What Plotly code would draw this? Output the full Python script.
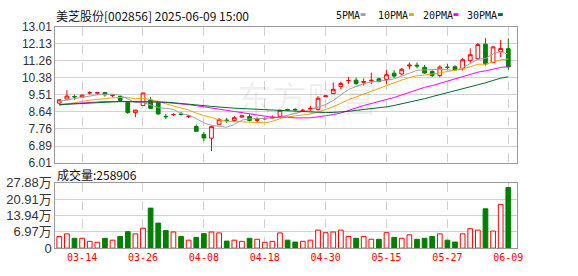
import plotly.graph_objects as go
import pandas as pd

W, H = 578, 276

# ---------------- data ----------------
dates = ["03-11", "03-12", "03-13", "03-14", "03-17", "03-18", "03-19", "03-20", "03-21", "03-24",
         "03-25", "03-26", "03-27", "03-28", "03-31", "04-01", "04-02", "04-03", "04-07", "04-08",
         "04-09", "04-10", "04-11", "04-14", "04-15", "04-16", "04-17", "04-18", "04-21", "04-22",
         "04-23", "04-24", "04-25", "04-28", "04-29", "04-30", "05-06", "05-07", "05-08", "05-09",
         "05-12", "05-13", "05-14", "05-15", "05-16", "05-19", "05-20", "05-21", "05-22", "05-23",
         "05-26", "05-27", "05-28", "05-29", "05-30", "06-03", "06-04", "06-05", "06-06", "06-09"]

opens = [9.09, 9.30, 9.43, 9.40, 9.62, 9.60, 9.63, 9.47, 9.43, 9.14,
         8.60, 8.97, 9.25, 9.12, 8.41, 8.50, 8.53, 8.40, 7.89, 7.48,
         7.29, 8.00, 8.22, 8.19, 8.37, 8.40, 8.20, 8.28, 8.33, 8.40,
         8.76, 8.77, 8.70, 8.78, 8.77, 9.42, 9.58, 9.94, 10.25, 10.27,
         10.16, 10.23, 10.34, 10.31, 10.63, 10.59, 11.00, 11.04, 10.93, 10.72,
         10.51, 10.93, 10.96, 10.85, 11.29, 11.37, 12.12, 11.17, 11.74, 11.89]
highs = [9.28, 9.75, 9.52, 9.53, 9.70, 9.66, 9.67, 9.53, 9.46, 9.16,
         8.74, 9.63, 9.40, 9.22, 8.54, 8.57, 8.64, 8.48, 7.99, 7.61,
         7.92, 8.33, 8.33, 8.43, 8.47, 8.52, 8.36, 8.36, 8.45, 8.75,
         8.80, 8.83, 8.80, 8.95, 9.45, 9.49, 10.15, 10.20, 10.44, 10.40,
         10.36, 10.66, 10.40, 10.80, 10.79, 10.90, 11.18, 11.18, 11.05, 10.78,
         11.04, 11.10, 11.04, 11.40, 11.90, 12.18, 12.43, 12.00, 12.34, 12.42]
lows = [9.05, 9.28, 9.27, 9.38, 9.53, 9.53, 9.42, 9.39, 9.20, 8.53,
        8.36, 8.95, 8.80, 8.50, 8.27, 8.43, 8.44, 8.32, 7.63, 7.15,
        6.63, 7.98, 8.06, 8.18, 8.35, 8.15, 8.10, 8.24, 8.30, 8.38,
        8.70, 8.68, 8.66, 8.66, 8.70, 9.40, 9.57, 9.80, 10.08, 10.03,
        10.00, 10.06, 10.15, 10.07, 10.39, 10.52, 10.82, 10.88, 10.60, 10.43,
        10.42, 10.82, 10.76, 10.77, 11.16, 11.33, 11.02, 11.14, 11.45, 10.80]
closes = [9.26, 9.45, 9.41, 9.50, 9.62, 9.63, 9.52, 9.49, 9.23, 8.61,
          8.73, 9.61, 8.82, 8.53, 8.39, 8.50, 8.51, 8.42, 7.64, 7.30,
          7.88, 8.24, 8.19, 8.34, 8.44, 8.20, 8.28, 8.30, 8.36, 8.72,
          8.74, 8.75, 8.72, 8.82, 9.34, 9.46, 9.80, 10.10, 10.25, 10.10,
          10.19, 10.26, 10.21, 10.55, 10.48, 10.83, 11.04, 11.00, 10.64, 10.51,
          10.94, 10.93, 10.80, 11.32, 11.58, 12.10, 11.10, 11.98, 11.90, 10.95]
volumes = [50000, 61000, 42000, 42000, 29000, 25000, 42000, 34000, 50000, 70500,
           61000, 85000, 171000, 107000, 75000, 69000, 50000, 34000, 46000, 62000,
           69000, 65000, 30000, 34000, 29000, 42000, 38000, 25000, 29000, 65000,
           34000, 26000, 29000, 34000, 77000, 66000, 69000, 77000, 50000, 42000,
           50000, 38000, 38000, 66000, 46000, 42000, 57000, 38000, 42000, 50000,
           61000, 34000, 26000, 61000, 83000, 77000, 168000, 73000, 187000, 258906]

# moving-average values before a full window exists
ma5_head = [9.18, 9.26, 9.34, 9.39]
ma10_head = [8.97, 9.05, 9.12, 9.18, 9.24, 9.29, 9.33, 9.36, 9.38]
ma20_head = [9.02, 9.05, 9.08, 9.11, 9.14, 9.16, 9.17, 9.17, 9.17, 9.17,
             9.17, 9.17, 9.16, 9.15, 9.12, 9.09, 9.05, 9.01, 8.96]
ma30_head = [9.01, 9.03, 9.05, 9.08, 9.11, 9.14, 9.16, 9.17, 9.17, 9.17,
             9.17, 9.17, 9.17, 9.16, 9.14, 9.11, 9.08, 9.04, 9.00, 8.96,
             8.92, 8.88, 8.85, 8.83, 8.81, 8.79, 8.77, 8.75, 8.73]

tick_dates = ["03-14", "03-26", "04-08", "04-18", "04-30", "05-15", "05-27", "06-09"]
price_ticks = [6.01, 6.885, 7.76, 8.635, 9.51, 10.385, 11.26, 12.135, 13.01]
price_ticktext = ["6.01", "6.89", "7.76", "8.64", "9.51", "10.38", "11.26", "12.13", "13.01"]
vol_ticks = [0, 69700, 139400, 209100, 278800]
vol_ticktext = ["0", "6.97万", "13.94万", "20.91万", "27.88万"]

title_text = "美芝股份[002856] 2025-06-09 15:00"
vol_label = "成交量:258906"

# ---------------- derived ----------------
cl = pd.Series(closes)
def ma(n, head):
    roll = cl.rolling(n).mean().tolist()
    return head + roll[n - 1:]

ma5, ma10, ma20, ma30 = ma(5, ma5_head), ma(10, ma10_head), ma(20, ma20_head), ma(30, ma30_head)

# direction (plotly rule: close vs open, doji vs previous close)
up = []
prev = None
state = True
for o, c in zip(opens, closes):
    if c != o:
        state = c > o
    elif prev is not None and c != prev:
        state = c > prev
    up.append(state)
    prev = c

RED = "#ff0000"
GREEN = "#008000"

fig = go.Figure()

fig.add_trace(go.Candlestick(
    x=dates, open=opens, high=highs, low=lows, close=closes,
    increasing=dict(line=dict(color=RED, width=1), fillcolor="white"),
    decreasing=dict(line=dict(color=GREEN, width=1), fillcolor=GREEN),
    whiskerwidth=0, xaxis="x", yaxis="y", showlegend=False, hoverinfo="skip"))

ma_styles = [(ma5, "#a0a0a0"), (ma10, "#f5a300"), (ma20, "#ff00ff"), (ma30, "#006a30")]
for vals, col in ma_styles:
    fig.add_trace(go.Scatter(x=dates, y=vals, mode="lines", line=dict(color=col, width=1),
                             xaxis="x", yaxis="y", showlegend=False, hoverinfo="skip"))

fig.add_trace(go.Bar(
    x=dates, y=volumes, width=0.62,
    marker=dict(color=["white" if u else GREEN for u in up],
                line=dict(color=[RED if u else GREEN for u in up], width=1)),
    xaxis="x2", yaxis="y2", showlegend=False, hoverinfo="skip"))

def px(x):
    return x / W

def py(y):
    return 1 - y / H

xdom = [px(56), px(523)]
grid = "#d2d2d2"
frame = "#9a9a9a"
axfont = dict(family="Liberation Sans, Arial", size=12, color="#333333")

common_x = dict(type="category", range=[-0.52, 60.1], domain=xdom,
                tickmode="array", tickvals=tick_dates, showgrid=True, gridcolor=grid,
                griddash="dash", gridwidth=1, showline=True, mirror=True, linecolor=frame,
                linewidth=1, ticks="", zeroline=False, fixedrange=True)

fig.update_layout(
    width=W, height=H, margin=dict(l=0, r=0, t=0, b=0),
    paper_bgcolor="white", plot_bgcolor="white", boxgap=0.3,
    xaxis=dict(**common_x, anchor="y", showticklabels=False, rangeslider=dict(visible=False)),
    xaxis2=dict(**common_x, anchor="y2", matches="x", ticktext=tick_dates,
                tickfont=dict(family="DejaVu Sans Mono", size=10, color=RED)),
    yaxis=dict(domain=[py(165), py(21)], range=[6.01, 13.01], tickmode="array",
               tickvals=price_ticks, ticktext=price_ticktext, showgrid=True, gridcolor=grid,
               showline=True, mirror=True, linecolor=frame, ticks="", zeroline=False,
               tickfont=axfont, anchor="x"),
    yaxis2=dict(domain=[py(255), py(186)], range=[0, 278800], tickmode="array",
                tickvals=vol_ticks, ticktext=vol_ticktext, showgrid=True, gridcolor=grid,
                showline=True, mirror=True, linecolor=frame, ticks="", zeroline=False,
                tickfont=dict(family="Liberation Sans, Noto Sans CJK SC", size=13, color="#333333"),
                anchor="x2"),
)

ann = []
ann.append(dict(text="东方财富", x=px(311), y=py(95), xref="paper", yref="paper",
                showarrow=False, font=dict(family="Noto Sans CJK SC", size=35,
                                           color="rgba(0,0,0,0.07)")))
ann.append(dict(text=title_text, x=px(55), y=py(9), xref="paper", yref="paper",
                xanchor="left", yanchor="middle", showarrow=False,
                font=dict(family="Noto Sans CJK SC", size=12, color="#111111")))
ann.append(dict(text=vol_label, x=px(56), y=py(177), xref="paper", yref="paper",
                xanchor="left", yanchor="middle", showarrow=False,
                font=dict(family="Noto Sans CJK SC", size=12, color="#111111")))

legend_items = [("5PMA", 338, "#a0a0a0"), ("10PMA", 381, "#f5a300"),
                ("20PMA", 426, "#ff00ff"), ("30PMA", 471, "#006a30")]
shapes = []
for name, lx, col in legend_items:
    ann.append(dict(text=name, x=px(lx), y=py(9), xref="paper", yref="paper",
                    xanchor="left", yanchor="middle", showarrow=False,
                    font=dict(family="DejaVu Sans Mono", size=10, color="#111111")))
    sx = lx + len(name) * 6 + 3
    shapes.append(dict(type="rect", xref="paper", yref="paper",
                       x0=px(sx), x1=px(sx + 5), y0=py(9.5), y1=py(6.5),
                       fillcolor=col, line=dict(width=0)))

fig.update_layout(annotations=ann, shapes=shapes)

fig.write_html("out.html")
